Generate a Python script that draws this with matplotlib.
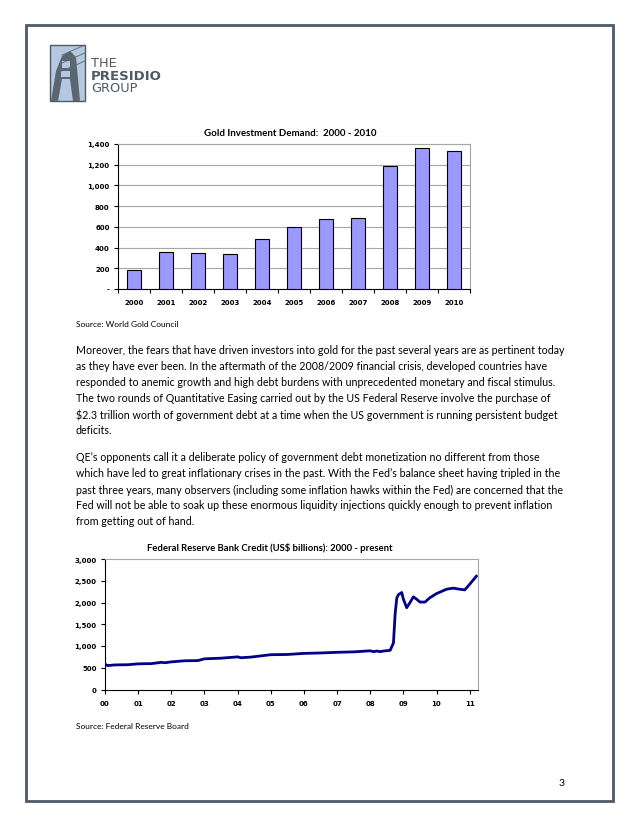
import numpy as np
import matplotlib.pyplot as plt
from matplotlib.patches import Rectangle, Polygon
from matplotlib.ticker import FuncFormatter, FixedLocator

plt.rcParams['font.family'] = ['Lato', 'DejaVu Sans']

# Gold investment demand (tonnes), 2000-2010
gold_years = ['2000', '2001', '2002', '2003', '2004', '2005',
              '2006', '2007', '2008', '2009', '2010']
gold_demand = [180, 360, 350, 340, 485, 600, 675, 690, 1185, 1360, 1330]

# Fed reserve bank credit, x = years since 2000, US$ bn
fed_t = [0.0, 0.08, 0.3, 0.7, 1.0, 1.4, 1.7, 1.8, 2.0, 2.4, 2.8, 3.0, 3.5,
         4.0, 4.1, 4.4, 5.0, 5.5, 6.0, 6.5, 7.0, 7.5, 8.0, 8.1, 8.2, 8.3,
         8.4, 8.6, 8.7, 8.75, 8.8, 8.85, 8.95, 9.0, 9.1, 9.2, 9.3, 9.4,
         9.5, 9.65, 9.8, 10.0, 10.3, 10.5, 10.7, 10.85, 11.0, 11.2]
fed_val = [580, 550, 565, 570, 590, 595, 625, 615, 635, 660, 665, 705, 720,
           750, 730, 745, 800, 805, 830, 840, 855, 865, 890, 870, 885, 870,
           885, 900, 1070, 1730, 2100, 2180, 2230, 2075, 1880, 2000, 2130,
           2075, 2010, 2010, 2110, 2205, 2305, 2330, 2305, 2290, 2420, 2605]

fed_ticks = ['00', '01', '02', '03', '04', '05', '06', '07', '08', '09', '10', '11']

para1 = ["Moreover, the fears that have driven investors into gold for the past several years are as pertinent today",
         "as they have ever been. In the aftermath of the 2008/2009 financial crisis, developed countries have",
         "responded to anemic growth and high debt burdens with unprecedented monetary and fiscal stimulus.",
         "The two rounds of Quantitative Easing carried out by the US Federal Reserve involve the purchase of",
         "$2.3 trillion worth of government debt at a time when the US government is running persistent budget",
         "deficits."]
para2 = ["QE\u2019s opponents call it a deliberate policy of government debt monetization no different from those",
         "which have led to great inflationary crises in the past. With the Fed\u2019s balance sheet having tripled in the",
         "past three years, many observers (including some inflation hawks within the Fed) are concerned that the",
         "Fed will not be able to soak up these enormous liquidity injections quickly enough to prevent inflation",
         "from getting out of hand."]

W, H = 640, 828
fig = plt.figure(figsize=(6.4, 8.28), dpi=100)
page = fig.add_axes([0, 0, 1, 1])
page.set_xlim(0, W)
page.set_ylim(H, 0)
page.axis('off')


def rect_px(l, t, r, b):
    return [l / W, 1 - b / H, (r - l) / W, (b - t) / H]


slate = '#4d5a67'
# page border
page.add_patch(Rectangle((26, 26), 587, 776, fill=False, ec=slate, lw=2))

# logo
page.add_patch(Rectangle((50, 46), 35, 56, fc='#b4c8df', ec=slate, lw=1))
page.add_patch(Polygon([(51, 102), (56, 72), (62, 57), (70, 52), (76, 58),
                        (80, 102), (73, 102), (70, 80), (62, 80), (58, 102)],
                       fc='#5b6670', ec='none'))
page.add_patch(Rectangle((62, 62), 8, 7, fc='#b4c8df', ec='none'))
page.add_patch(Rectangle((61, 72), 9, 6, fc='#b4c8df', ec='none'))
for y0 in [50, 58, 66]:
    page.plot([62, 85], [y0 + 6, y0 - 4], color='#5b6670', lw=0.6)
page.text(91, 67, 'THE', fontsize=9.3, color=slate, va='baseline', family='DejaVu Sans')
page.text(91, 79.5, 'PRESIDIO', fontsize=9.5, color=slate, va='baseline',
          family='DejaVu Sans', weight='bold')
page.text(91, 92, 'GROUP', fontsize=9.3, color=slate, va='baseline', family='DejaVu Sans')

# gold chart
ax1 = fig.add_axes(rect_px(118, 145, 470, 290))
x = np.arange(len(gold_years))
ax1.bar(x, gold_demand, width=0.44, color='#9999ff', edgecolor='black', lw=0.8, zorder=3)
ax1.set_xlim(-0.5, len(gold_years) - 0.5)
ax1.set_ylim(0, 1400)
ax1.set_yticks(range(0, 1401, 200))
ax1.yaxis.set_major_formatter(FuncFormatter(lambda v, p: '-' if v == 0 else f'{int(v):,}'))
ax1.grid(axis='y', color='#a6a6a6', lw=0.8, zorder=0)
ax1.xaxis.set_major_locator(FixedLocator(np.arange(-0.5, len(gold_years), 1)))
ax1.xaxis.set_major_formatter(FuncFormatter(lambda v, p: ''))
ax1.set_xticks(x, minor=True)
ax1.set_xticklabels(gold_years, minor=True)
ax1.tick_params(axis='x', which='minor', length=0, pad=7)
ax1.tick_params(axis='x', which='major', length=3, direction='out')
ax1.tick_params(axis='y', length=3, direction='out', pad=3)
for lab in ax1.get_xticklabels(minor=True) + ax1.get_yticklabels():
    lab.set_family('DejaVu Sans')
    lab.set_weight('bold')
    lab.set_fontsize(5)
for s in ['top', 'right']:
    ax1.spines[s].set_color('#a6a6a6')
page.text(290, 134, 'Gold Investment Demand:  2000 - 2010', fontsize=7, weight='bold',
          ha='center', va='center')
page.text(76, 325, 'Source: World Gold Council', fontsize=6, va='center')

# paragraphs
for i, line in enumerate(para1):
    page.text(76, 351 + 16 * i, line, fontsize=7.7, va='center')
for i, line in enumerate(para2):
    page.text(76, 458 + 16 * i, line, fontsize=7.7, va='center')

# fed chart
ax2 = fig.add_axes(rect_px(105, 560, 478, 690.5))
ax2.plot(fed_t, fed_val, color='#000088', lw=2)
ax2.set_xlim(0, 11.25)
ax2.set_ylim(0, 3000)
ax2.set_yticks(range(0, 3001, 500))
ax2.yaxis.set_major_formatter(FuncFormatter(lambda v, p: f'{int(v):,}'))
ax2.set_xticks(range(len(fed_ticks)))
ax2.set_xticklabels(fed_ticks)
ax2.tick_params(axis='x', length=3, direction='out', pad=4.5)
ax2.tick_params(axis='y', length=3, direction='out', pad=3)
for lab in ax2.get_xticklabels() + ax2.get_yticklabels():
    lab.set_family('DejaVu Sans')
    lab.set_weight('bold')
    lab.set_fontsize(5)
for s in ['top', 'right']:
    ax2.spines[s].set_color('#a6a6a6')
page.text(270, 548, 'Federal Reserve Bank Credit (US$ billions): 2000 - present',
          fontsize=6.85, weight='bold', ha='center', va='center')
page.text(76, 727, 'Source: Federal Reserve Board', fontsize=6, va='center')

page.text(562, 784, '3', fontsize=7.5, ha='center', va='center')

fig.savefig('out.png', dpi=100)
